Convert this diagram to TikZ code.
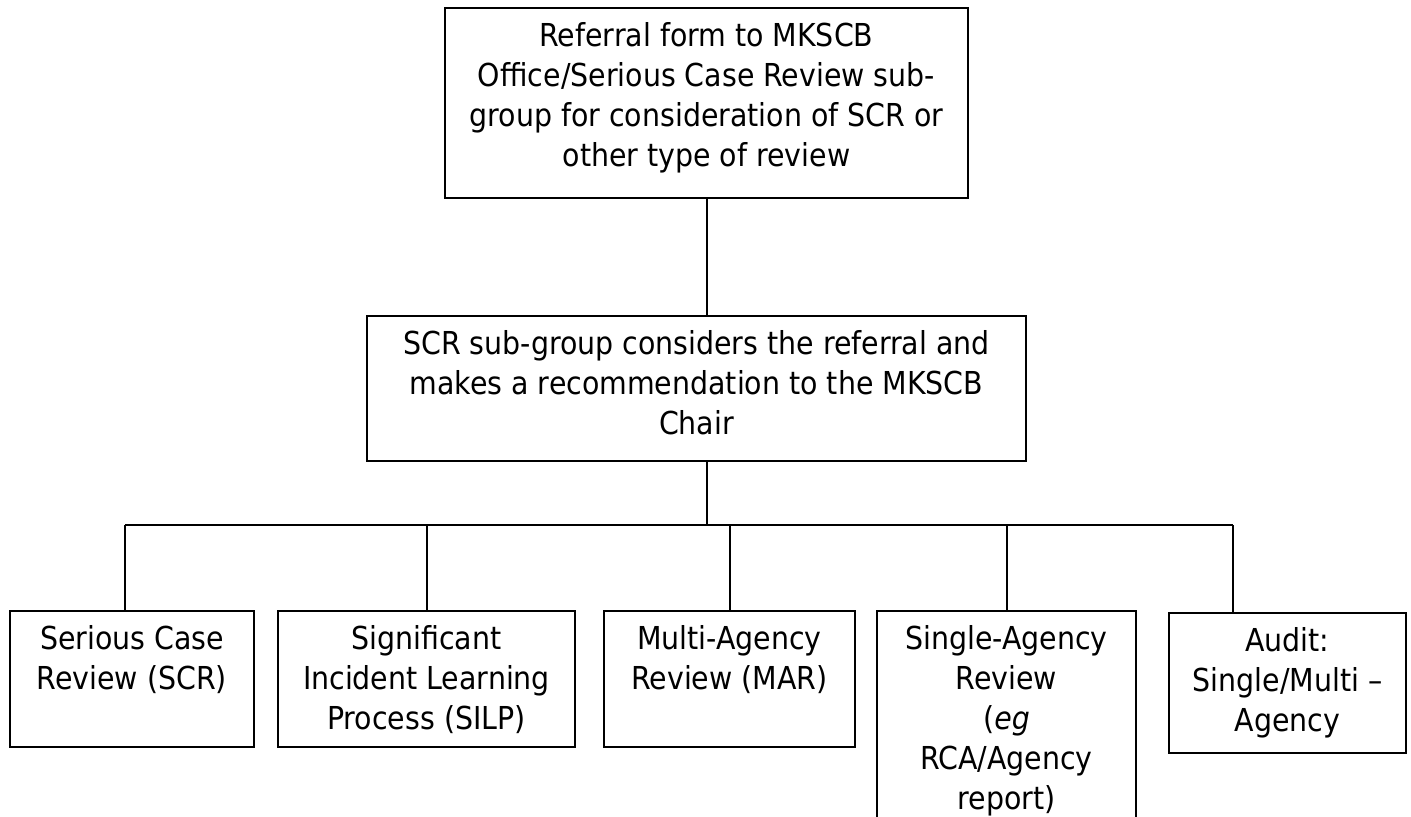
\documentclass[tikz,border=0pt]{standalone}
\usepackage{fontspec}
\setmainfont{DejaVu Sans Condensed}
\usetikzlibrary{positioning}

\newcommand{\boxtext}[3]{\parbox[t][#2][t]{#1}{\centering\vspace*{7pt}#3}}

\begin{document}
\begin{tikzpicture}[
  x=0.5pt, y=-0.5pt,
  box/.style={draw, line width=1pt, inner sep=0pt, anchor=north west, font=\fontsize{15.8}{20}\selectfont},
  link/.style={line width=1pt}
]
\useasboundingbox (0,0) rectangle (1411,817);
\node[box] (referral) at (444,7) {\boxtext{261.5pt}{95pt}{Referral form to MKSCB\\Office/Serious Case Review sub-\\group for consideration of SCR or\\other type of review}};
\node[box] (chair) at (366,315) {\boxtext{329.5pt}{72.5pt}{SCR sub-group considers the referral and\\makes a recommendation to the MKSCB\\Chair}};
\node[box] (scr) at (9,610) {\boxtext{122pt}{68pt}{Serious Case\\Review (SCR)}};
\node[box] (silp) at (277,610) {\boxtext{148.5pt}{68pt}{Significant\\Incident Learning\\Process (SILP)}};
\node[box] (mar) at (603,610) {\boxtext{125.5pt}{68pt}{Multi-Agency\\Review (MAR)}};
\node[box] (sar) at (876,610) {\boxtext{129.5pt}{120pt}{Single-Agency\\Review\\(\textit{eg}\\RCA/Agency\\report)}};
\node[box] (audit) at (1168,612) {\boxtext{118.5pt}{70pt}{Audit:\\Single/Multi –\\Agency}};
\coordinate (busL) at (125,525);
\coordinate (busR) at (1233,525);
\draw[link] (referral.south) -- (referral.south |- chair.north);
\draw[link] (referral.south |- chair.south) -- (referral.south |- busL);
\draw[link] (busL) -- (busR);
\draw[link] (busL) -- (busL |- scr.north);
\draw[link] (silp.north |- busL) -- (silp.north);
\draw[link] (mar.north |- busL) -- (mar.north);
\draw[link] (sar.north |- busL) -- (sar.north);
\draw[link] (busR) -- (busR |- audit.north);
\end{tikzpicture}
\end{document}
